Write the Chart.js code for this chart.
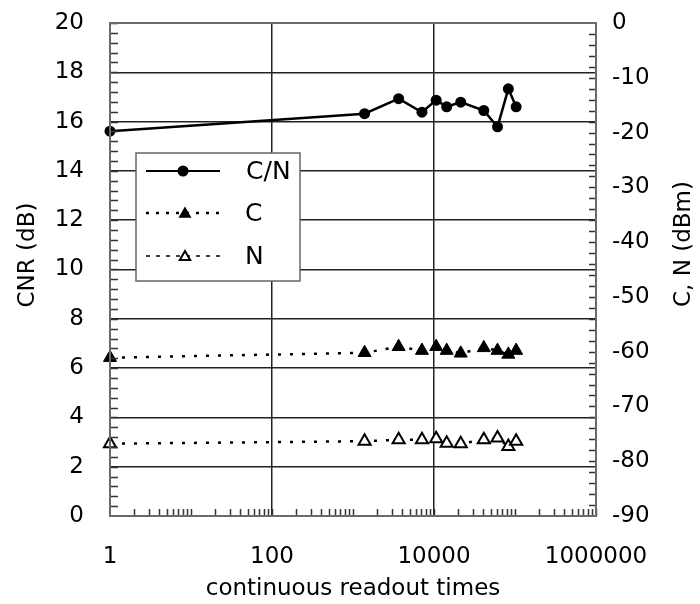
<!DOCTYPE html>
<html><head><meta charset="utf-8">
<script src="https://cdn.jsdelivr.net/npm/chart.js@4/dist/chart.umd.min.js"></script>
<style>html,body{margin:0;padding:0;background:#fff}#wrap{width:700px;height:604px}</style>
</head><body><div id="wrap"><canvas id="c" width="700" height="604"></canvas></div>
<script>
const readoutTimes = [1, 1390, 3660, 7100, 10640, 14350, 21380, 41190, 60810, 82770, 103300];
const cnrValues = [15.61, 16.32, 16.93, 16.38, 16.87, 16.60, 16.79, 16.45, 15.79, 17.33, 16.60];
const carrierValues = [-61.1, -60.2, -59.1, -59.8, -59.1, -59.8, -60.3, -59.3, -59.8, -60.5, -59.8];
const noiseValues = [-76.8, -76.35, -76.1, -76.1, -75.9, -76.7, -76.8, -76.1, -75.75, -77.3, -76.35];
const xTickLabels = [1, 100, 10000, 1000000];
const xGridValues = [100, 10000];
const seriesNames = ['C/N', 'C', 'N'];
const axisTitles = {x: 'continuous readout times', left: 'CNR (dB)', right: 'C, N (dBm)'};

const FONT = '"DejaVu Sans", Verdana, sans-serif';
Chart.defaults.font.family = FONT;
Chart.defaults.color = '#000';

const toPts = ys => readoutTimes.map((x, i) => ({x: x, y: ys[i]}));

const framePlugin = {
  id: 'frame',
  afterDraw(chart) {
    const ctx = chart.ctx;
    const a = chart.chartArea;
    const sx = chart.scales.x, yl = chart.scales.yL, yr = chart.scales.yR;
    ctx.save();
    // minor ticks
    ctx.strokeStyle = '#333';
    ctx.lineWidth = 1.5;
    ctx.beginPath();
    for (let k = 0; k < 6; k++) {
      for (let m = 2; m <= 10; m++) {
        const v = m * Math.pow(10, k);
        const px = Math.round(sx.getPixelForValue(v)) + 0.5;
        ctx.moveTo(px, a.bottom); ctx.lineTo(px, a.bottom - 7);
      }
    }
    for (let v = 0.4; v < 20; v += 0.4) {
      const py = Math.round(yl.getPixelForValue(v)) + 0.5;
      ctx.moveTo(a.left, py); ctx.lineTo(a.left + 8, py);
    }
    for (let v = -88; v < 0; v += 2) {
      const py = Math.round(yr.getPixelForValue(v)) + 0.5;
      ctx.moveTo(a.right, py); ctx.lineTo(a.right - 7, py);
    }
    ctx.stroke();
    // frame
    ctx.strokeStyle = '#6a6a6a';
    ctx.lineWidth = 2;
    ctx.strokeRect(a.left, a.top, a.right - a.left, a.bottom - a.top);

    // legend
    const lx = 136, ly = 153, lw = 164, lh = 128;
    ctx.fillStyle = '#fff';
    ctx.fillRect(lx, ly, lw, lh);
    ctx.strokeStyle = '#666';
    ctx.lineWidth = 1.5;
    ctx.strokeRect(lx, ly, lw, lh);
    const rows = [171, 213, 256];
    const x0 = 146, x1 = 220, mx = 183;
    ctx.strokeStyle = '#000';
    // C/N
    ctx.lineWidth = 2; ctx.setLineDash([]);
    ctx.beginPath(); ctx.moveTo(x0, rows[0]); ctx.lineTo(x1, rows[0]); ctx.stroke();
    ctx.fillStyle = '#000';
    ctx.beginPath(); ctx.arc(mx, rows[0], 5.5, 0, Math.PI * 2); ctx.fill();
    // C
    ctx.lineWidth = 2.5; ctx.setLineDash([3, 7]);
    ctx.beginPath(); ctx.moveTo(x0, rows[1]); ctx.lineTo(x1, rows[1]); ctx.stroke();
    ctx.setLineDash([]);
    const tri = (cx, cy, r) => {
      ctx.beginPath();
      for (let i = 0; i < 3; i++) {
        const ang = i * 2 * Math.PI / 3;
        const px = cx + Math.sin(ang) * r, py = cy - Math.cos(ang) * r;
        if (i === 0) ctx.moveTo(px, py); else ctx.lineTo(px, py);
      }
      ctx.closePath();
    };
    tri(mx + 2, rows[1] + 1, 7.5); ctx.fill();
    // N
    ctx.lineWidth = 1.5; ctx.setLineDash([4, 6]);
    ctx.beginPath(); ctx.moveTo(x0, rows[2]); ctx.lineTo(x1, rows[2]); ctx.stroke();
    ctx.setLineDash([]);
    tri(mx + 2, rows[2] + 1, 6); ctx.fillStyle = '#fff'; ctx.fill(); ctx.lineWidth = 2; ctx.stroke();
    ctx.fillStyle = '#000';
    ctx.font = '25px ' + FONT;
    ctx.textAlign = 'left'; ctx.textBaseline = 'middle';
    ctx.fillText(seriesNames[0], 246, rows[0] + 1);
    ctx.fillText(seriesNames[1], 245, rows[1] + 1);
    ctx.fillText(seriesNames[2], 245, rows[2] + 1);

    // axis titles
    ctx.font = '23px ' + FONT;
    ctx.textAlign = 'center'; ctx.textBaseline = 'middle';
    ctx.fillText(axisTitles.x, (a.left + a.right) / 2, 589);
    ctx.save();
    ctx.translate(28, 255); ctx.rotate(-Math.PI / 2);
    ctx.fillText(axisTitles.left, 0, 0);
    ctx.restore();
    ctx.save();
    ctx.translate(684, 244); ctx.rotate(-Math.PI / 2);
    ctx.fillText(axisTitles.right, 0, 0);
    ctx.restore();
    ctx.restore();
  }
};

new Chart(document.getElementById('c'), {
  type: 'line',
  data: {datasets: [
    {label: seriesNames[0], data: toPts(cnrValues), yAxisID: 'yL', borderColor: '#000', backgroundColor: '#000',
     borderWidth: 2.5, pointRadius: 5.5, pointStyle: 'circle', pointBorderWidth: 0, tension: 0, clip: false},
    {label: seriesNames[1], data: toPts(carrierValues), yAxisID: 'yR', borderColor: '#000', backgroundColor: '#000',
     borderWidth: 2.5, borderDash: [3, 9], pointStyle: 'triangle', pointRadius: 7.5, pointBorderWidth: 1, tension: 0, clip: false},
    {label: seriesNames[2], data: toPts(noiseValues), yAxisID: 'yR', borderColor: '#000', backgroundColor: '#fff',
     pointBackgroundColor: '#fff', pointBorderColor: '#000', pointBorderWidth: 2, borderWidth: 2.5, borderDash: [3, 9],
     pointStyle: 'triangle', pointRadius: 7, tension: 0, clip: false}
  ]},
  options: {
    responsive: false, animation: false, devicePixelRatio: 1,
    layout: {padding: {top: 23, left: 0, right: 0, bottom: 0}},
    plugins: {legend: {display: false}, tooltip: {enabled: false}},
    scales: {
      x: {type: 'logarithmic', position: 'bottom', min: 1, max: 1e6,
        afterBuildTicks: s => { s.ticks = [1, 10, 100, 1000, 10000, 100000, 1000000].map(v => ({value: v})); },
        ticks: {autoSkip: false, maxRotation: 0, minRotation: 0, padding: 27, font: {size: 23},
          callback: v => xTickLabels.includes(v) ? String(v) : ''},
        grid: {drawTicks: false, lineWidth: 1.5,
          color: c => (c.tick && xGridValues.includes(c.tick.value)) ? '#222' : 'rgba(0,0,0,0)'},
        border: {display: false},
        afterFit: s => { s.height = 88; s.paddingLeft = 0; s.paddingRight = 0; }
      },
      yL: {position: 'left', min: 0, max: 20,
        ticks: {stepSize: 2, padding: 26, font: {size: 23}},
        grid: {drawTicks: false, lineWidth: 1.5,
          color: c => (c.tick && c.tick.value > 0 && c.tick.value < 20) ? '#222' : 'rgba(0,0,0,0)'},
        border: {display: false},
        afterFit: s => { s.width = 110; s.paddingTop = 0; s.paddingBottom = 0; }
      },
      yR: {position: 'right', min: -90, max: 0,
        ticks: {stepSize: 10, padding: 16, font: {size: 23}},
        grid: {drawOnChartArea: false, drawTicks: false},
        border: {display: false},
        afterFit: s => { s.width = 104; s.paddingTop = 0; s.paddingBottom = 0; }
      }
    }
  },
  plugins: [framePlugin]
});
</script>
</body></html>
